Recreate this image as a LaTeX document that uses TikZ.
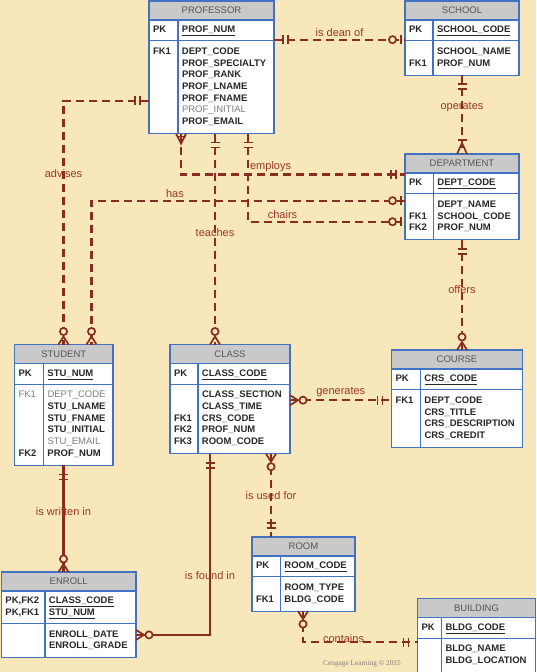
\documentclass[tikz,border=0pt]{standalone}
\usepackage{fontspec}
\setmainfont{Liberation Sans}
\newfontfamily\crfont{Liberation Serif}
\usepackage{array}
\usepackage{xcolor}
\usetikzlibrary{positioning,decorations.markings}
\definecolor{bgclr}{RGB}{248,231,187}
\definecolor{lineclr}{RGB}{137,45,30}
\definecolor{labelclr}{RGB}{155,55,38}
\definecolor{tblblue}{RGB}{66,114,196}
\definecolor{hdrgray}{RGB}{201,201,201}
\definecolor{hdrtext}{RGB}{85,85,85}
\definecolor{attrtext}{RGB}{40,40,40}
\definecolor{graytext}{RGB}{125,125,125}
\tikzset{
tblhead/.style={draw=tblblue, line width=1.2pt, fill=hdrgray, text=hdrtext, inner sep=0pt, outer sep=0pt, minimum height=19pt, anchor=north west, font=\fontsize{9.5}{11}\selectfont},
tblkey/.style={draw=tblblue, line width=1.2pt, fill=white, inner xsep=0pt, inner ysep=4.5pt, outer sep=0pt, anchor=north west, align=left, text=attrtext, font=\fontsize{9.5}{11.7}\selectfont\bfseries},
tblbody/.style={tblkey, inner ysep=5.5pt},
erline/.style={draw=lineclr, line width=2.1pt, dash pattern=on 8pt off 5pt},
ersolid/.style={draw=lineclr, line width=2.1pt},
erpen/.style={draw=lineclr, line width=1.7pt},
erlabel/.style={text=labelclr, inner sep=1pt, font=\fontsize{11}{13}\selectfont},
er mark/.style 2 args={postaction={decorate, decoration={markings, mark=at position #1 with {#2}}}},
one start/.style={er mark={9pt}{\erbar}, er mark={14pt}{\erbar}},
one end/.style={er mark={-9pt}{\erbar}, er mark={-14pt}{\erbar}},
zero one start/.style={er mark={4pt}{\erbar}, er mark={12.5pt}{\ercirc}},
zero one end/.style={er mark={-4pt}{\erbar}, er mark={-12.5pt}{\ercirc}},
zero many start/.style={er mark={8pt}{\ercrow{-8pt}}, er mark={13pt}{\ercirc}},
zero many end/.style={er mark={-8pt}{\ercrow{8pt}}, er mark={-13pt}{\ercirc}},
one many start/.style={er mark={10pt}{\ercrow{-10pt}}, er mark={3pt}{\erbar}},
one many end/.style={er mark={-11pt}{\ercrow{11pt}}, er mark={-14pt}{\erbar}}
}
\newcommand{\erbar}{\draw[solid, erpen] (0pt,-4.5pt) -- (0pt,4.5pt);}
\newcommand{\ercirc}{\draw[solid, erpen, fill=bgclr] (0pt,0pt) circle (3.6pt);}
\newcommand{\ercrow}[1]{\draw[solid, erpen] (#1,5pt) -- (0pt,0pt) -- (#1,-5pt);}
\newcommand{\gr}{\leavevmode\mdseries\color{graytext}}
\newcommand{\keytab}[2]{\begin{tabular}{@{\hspace{4pt}}p{\dimexpr#1-4pt\relax}@{\hspace{4pt}}l@{}}#2\end{tabular}}
% table: name, top left, width, key column, title, pk rows, other rows
\newcommand{\entity}[7]{%
\node[tblhead, minimum width=#3] (#1) at (#2) {#5};
\node[tblkey, text width=#3] (#1-pk) at (#1.south west) {\keytab{#4}{#6}};
\node[tblbody, text width=#3] (#1-att) at (#1-pk.south west) {\keytab{#4}{#7}};
\draw[tblblue, line width=1.2pt] ([xshift=#4]#1-pk.north west) -- ([xshift=#4]#1-att.south west);
}

\begin{document}
\begin{tikzpicture}[x=1pt, y=-1pt]
\fill[bgclr] (0,0) rectangle (536,672);
\useasboundingbox (0,0) rectangle (536,672);

% tables
\entity{prof}{149,1}{125pt}{29pt}{PROFESSOR}{PK & \underline{PROF\_NUM}}{FK1 & DEPT\_CODE\\ & PROF\_SPECIALTY\\ & PROF\_RANK\\ & PROF\_LNAME\\ & PROF\_FNAME\\ & \gr PROF\_INITIAL\\ & PROF\_EMAIL}
\entity{school}{405,1}{114pt}{28pt}{SCHOOL}{PK & \underline{SCHOOL\_CODE}}{ & SCHOOL\_NAME\\ FK1 & PROF\_NUM}
\entity{dept}{405,154}{114pt}{28.5pt}{DEPARTMENT}{PK & \underline{DEPT\_CODE}}{ & DEPT\_NAME\\ FK1 & SCHOOL\_CODE\\ FK2 & PROF\_NUM}
\entity{stu}{14.5,344.5}{98.5pt}{29pt}{STUDENT}{PK & \underline{STU\_NUM}}{\gr FK1 & \gr DEPT\_CODE\\ & STU\_LNAME\\ & STU\_FNAME\\ & STU\_INITIAL\\ & \gr STU\_EMAIL\\ FK2 & PROF\_NUM}
\entity{cls}{170,344.5}{120pt}{28pt}{CLASS}{PK & \underline{CLASS\_CODE}}{ & CLASS\_SECTION\\ & CLASS\_TIME\\ FK1 & CRS\_CODE\\ FK2 & PROF\_NUM\\ FK3 & ROOM\_CODE}
\entity{crs}{391.5,350}{131pt}{29pt}{COURSE}{PK & \underline{CRS\_CODE}}{FK1 & DEPT\_CODE\\ & CRS\_TITLE\\ & CRS\_DESCRIPTION\\ & CRS\_CREDIT}
\entity{enr}{1.5,572}{134.5pt}{43.5pt}{ENROLL}{PK,FK2 & \underline{CLASS\_CODE}\\ PK,FK1 & \underline{STU\_NUM}}{ & ENROLL\_DATE\\ & ENROLL\_GRADE}
\entity{room}{252,537}{103pt}{28.5pt}{ROOM}{PK & \underline{ROOM\_CODE}}{ & ROOM\_TYPE\\ FK1 & BLDG\_CODE}
\entity{bldg}{417.5,598.5}{118pt}{24pt}{BUILDING}{PK & \underline{BLDG\_CODE}}{ & BLDG\_NAME\\ & BLDG\_LOCATION}

% relationships
\draw[erline, one start, zero one end] ([yshift=1pt]prof-pk.south east) -- ([yshift=1pt]school-pk.south west) node[erlabel, midway, above=1pt] (deanof) {is dean of};
\draw[erline, one start, one many end] (school-att.south) -- (dept.north) node[erlabel, pos=0.4] (operates) {operates};
\draw[erline, one many start, one end] ([xshift=32pt]prof-att.south west) |- ([yshift=-1.5pt]dept-pk.north west) node[erlabel, pos=0.7, above=1pt] (employs) {employs};
\draw[erline, zero one start, zero many end] ([yshift=-7pt]dept-att.north west) -| ([xshift=77pt]stu.north west) node[erlabel, pos=0.367, above=1pt] (has) {has};
\draw[erline, one start, zero one end] ([xshift=99pt]prof-att.south west) |- ([yshift=-28pt]dept-att.north west) node[erlabel, pos=0.61, above=1pt] (chairs) {chairs};
\draw[erline, one start, zero many end] ([xshift=66pt]prof-att.south west) -- ([xshift=45pt]cls.north west) node[erlabel, pos=0.47] (teaches) {teaches};
\draw[erline, one start, zero many end] ([yshift=-60pt]prof-att.north west) -| ([xshift=49pt]stu.north west) node[erlabel, pos=0.65] (advises) {advises};
\draw[erline, one start, zero many end] (dept-att.south) -- (dept-att.south |- crs.north) node[erlabel, pos=0.45] (offers) {offers};
\coordinate (gen) at ([yshift=-16pt]cls-att.north east);
\draw[erline, zero many start, one end] (gen) -- (gen -| crs-att.west) node[erlabel, midway, above=1pt] (generates) {generates};
\draw[erline, zero many start, one end] ([xshift=101pt]cls-att.south west) -- ([xshift=19pt]room.north west) node[erlabel, pos=0.5] (usedfor) {is used for};
\draw[ersolid, one start, zero many end] ([xshift=40pt]cls-att.south west) |- ([yshift=-11.5pt]enr-att.north east) node[erlabel, pos=0.336] (foundin) {is found in};
\draw[ersolid, one start, zero many end] ([xshift=49pt]stu-att.south west) -- ([xshift=62pt]enr.north west) node[erlabel, pos=0.43] (writtenin) {is written in};
\draw[erline, zero many start, one end] ([xshift=51pt]room-att.south west) |- ([yshift=-4pt]bldg-att.north west) node[erlabel, pos=0.677, yshift=4pt] (contains) {contains};

\node[font=\crfont\fontsize{7.3}{9}\selectfont, text=graytext] (credit) at (362,664) {Cengage Learning \textcopyright\ 2015};
\end{tikzpicture}
\end{document}
